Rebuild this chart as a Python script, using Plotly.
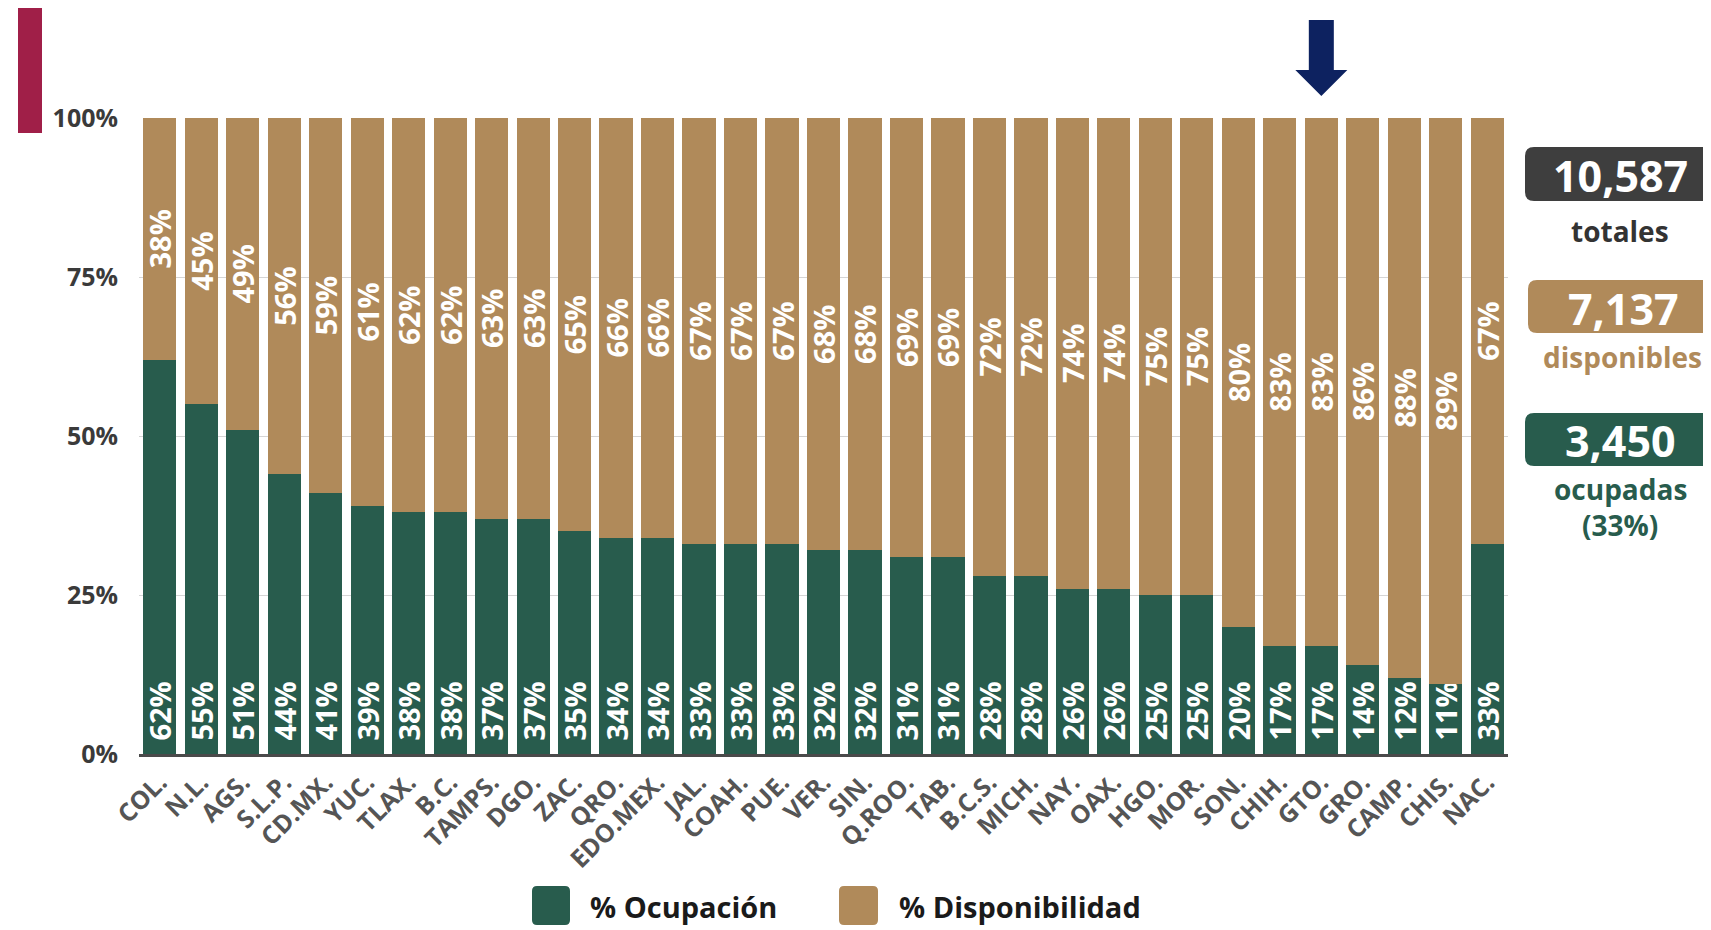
import plotly.graph_objects as go

# ---------------- data ----------------
estados = ["COL.", "N.L.", "AGS.", "S.L.P.", "CD.MX.", "YUC.", "TLAX.", "B.C.", "TAMPS.",
           "DGO.", "ZAC.", "QRO.", "EDO.MEX.", "JAL.", "COAH.", "PUE.", "VER.", "SIN.",
           "Q.ROO.", "TAB.", "B.C.S.", "MICH.", "NAY.", "OAX.", "HGO.", "MOR.", "SON.",
           "CHIH.", "GTO.", "GRO.", "CAMP.", "CHIS.", "NAC."]
ocupacion = [62, 55, 51, 44, 41, 39, 38, 38, 37, 37, 35, 34, 34, 33, 33, 33, 32, 32,
             31, 31, 28, 28, 26, 26, 25, 25, 20, 17, 17, 14, 12, 11, 33]
disponibilidad = [38, 45, 49, 56, 59, 61, 62, 62, 63, 63, 65, 66, 66, 67, 67, 67, 68, 68,
                  69, 69, 72, 72, 74, 74, 75, 75, 80, 83, 83, 86, 88, 89, 67]
y_ticks = [0, 25, 50, 75, 100]
y_tick_labels = ["0%", "25%", "50%", "75%", "100%"]
camas_totales = "10,587"
camas_disponibles = "7,137"
camas_ocupadas = "3,450"
pct_ocupadas = "(33%)"
estado_senalado = "GTO."

# ---------------- style ----------------
FONT = "Open Sans"
GREEN = "#285C4D"
GOLD = "#B08A5A"
DARK = "#3E3E3E"
RED = "#A01F48"
NAVY = "#0D2260"

W, H = 1711, 930
L, R, T, B = 131, 211, 110, 184
PW, PH = W - L - R, H - T - B


def px(x):
    return (x - L) / PW


def py(y):
    return (H - B - y) / PH


def rrect(x0, y0, x1, y1, r):
    pts = [
        f"M {px(x0 + r)} {py(y0)}",
        f"L {px(x1 - r)} {py(y0)}",
        f"Q {px(x1)} {py(y0)} {px(x1)} {py(y0 + r)}",
        f"L {px(x1)} {py(y1 - r)}",
        f"Q {px(x1)} {py(y1)} {px(x1 - r)} {py(y1)}",
        f"L {px(x0 + r)} {py(y1)}",
        f"Q {px(x0)} {py(y1)} {px(x0)} {py(y1 - r)}",
        f"L {px(x0)} {py(y0 + r)}",
        f"Q {px(x0)} {py(y0)} {px(x0 + r)} {py(y0)}",
        "Z",
    ]
    return " ".join(pts)


txt_ocup = ["\u00a0\u200a" + str(v) + "%" for v in ocupacion]
txt_disp = [str(v) + "%" for v in disponibilidad]

fig = go.Figure()
fig.add_trace(go.Bar(
    x=estados, y=ocupacion, name="% Ocupación", marker=dict(color=GREEN, line=dict(width=0)),
    text=txt_ocup, textposition="inside", insidetextanchor="start",
    textangle=-90, constraintext="none", hoverinfo="x+y",
    textfont=dict(family=FONT, size=29, color="white", weight="bold"),
))
fig.add_trace(go.Bar(
    x=estados, y=disponibilidad, name="% Disponibilidad", marker=dict(color=GOLD, line=dict(width=0)),
    text=txt_disp, textposition="inside", insidetextanchor="middle",
    textangle=-90, constraintext="none", hoverinfo="x+y",
    textfont=dict(family=FONT, size=29, color="white", weight="bold"),
))

shapes = []
annotations = []

# red accent bar top-left
shapes.append(dict(type="rect", xref="paper", yref="paper", x0=px(10), x1=px(34),
                   y0=py(125), y1=py(0), fillcolor=RED, line=dict(width=0), layer="above"))

# arrow above the highlighted state
idx = estados.index(estado_senalado)
cx = (idx + 0.5) / len(estados)
sh = 12.5 / PW
hh = 26 / PW
arrow = (f"M {cx - sh} {py(12)} L {cx + sh} {py(12)} L {cx + sh} {py(62)} "
         f"L {cx + hh} {py(62)} L {cx} {py(88)} L {cx - hh} {py(62)} L {cx - sh} {py(62)} Z")
shapes.append(dict(type="path", xref="paper", yref="paper", path=arrow,
                   fillcolor=NAVY, line=dict(width=0)))

# right side summary boxes
boxes = [
    (1517, 139, 1710, 193, DARK, camas_totales, 1612, 167),
    (1520, 272, 1710, 325, GOLD, camas_disponibles, 1615, 300),
    (1517, 405, 1710, 458, GREEN, camas_ocupadas, 1612, 432),
]
for x0, y0, x1, y1, col, txt, tx, ty in boxes:
    shapes.append(dict(type="path", xref="paper", yref="paper", path=rrect(x0, y0, x1, y1, 9),
                       fillcolor=col, line=dict(width=0)))
    annotations.append(dict(xref="paper", yref="paper", x=px(tx), y=py(ty), text=f"<b>{txt}</b>",
                            showarrow=False, xanchor="center", yanchor="middle",
                            font=dict(family=FONT, size=43, color="white")))

labels = [
    ("totales", 1612, 223, "#333333"),
    ("disponibles", 1614, 349, GOLD),
    ("ocupadas", 1612, 481, GREEN),
    (pct_ocupadas, 1612, 517, GREEN),
]
for txt, tx, ty, col in labels:
    annotations.append(dict(xref="paper", yref="paper", x=px(tx), y=py(ty), text=f"<b>{txt}</b>",
                            showarrow=False, xanchor="center", yanchor="middle",
                            font=dict(family=FONT, size=28, color=col)))

# custom legend
leg = [(524, 562, GREEN, "% Ocupación", 580), (831, 870, GOLD, "% Disponibilidad", 889)]
for x0, x1, col, txt, tx in leg:
    shapes.append(dict(type="path", xref="paper", yref="paper", path=rrect(x0, 878, x1, 917, 5),
                       fillcolor=col, line=dict(width=0)))
    annotations.append(dict(xref="paper", yref="paper", x=px(tx), y=py(898), text=f"<b>{txt}</b>",
                            showarrow=False, xanchor="left", yanchor="middle",
                            font=dict(family=FONT, size=29, color="#1A1A1A")))

fig.update_layout(
    width=W, height=H,
    margin=dict(l=L, r=R, t=T, b=B),
    barmode="stack", bargap=0.2,
    plot_bgcolor="white", paper_bgcolor="white",
    showlegend=False,
    shapes=shapes, annotations=annotations,
    font=dict(family=FONT),
    xaxis=dict(
        type="category", tickangle=-45, showgrid=False,
        tickfont=dict(family=FONT, size=25, color="#555555", weight="bold"),
        showline=True, linecolor="#4A4A4A", linewidth=2.5,
        ticks="", ticklabelstandoff=1, fixedrange=True,
    ),
    yaxis=dict(
        range=[0, 100], tickvals=y_ticks, ticktext=y_tick_labels,
        showgrid=True, gridcolor="#D5D5D5", gridwidth=1, zeroline=False,
        tickfont=dict(family=FONT, size=25, color="#3A3A3A", weight="bold"),
        ticks="", ticklabelstandoff=20, fixedrange=True,
    ),
)

fig.write_html("out.html")
